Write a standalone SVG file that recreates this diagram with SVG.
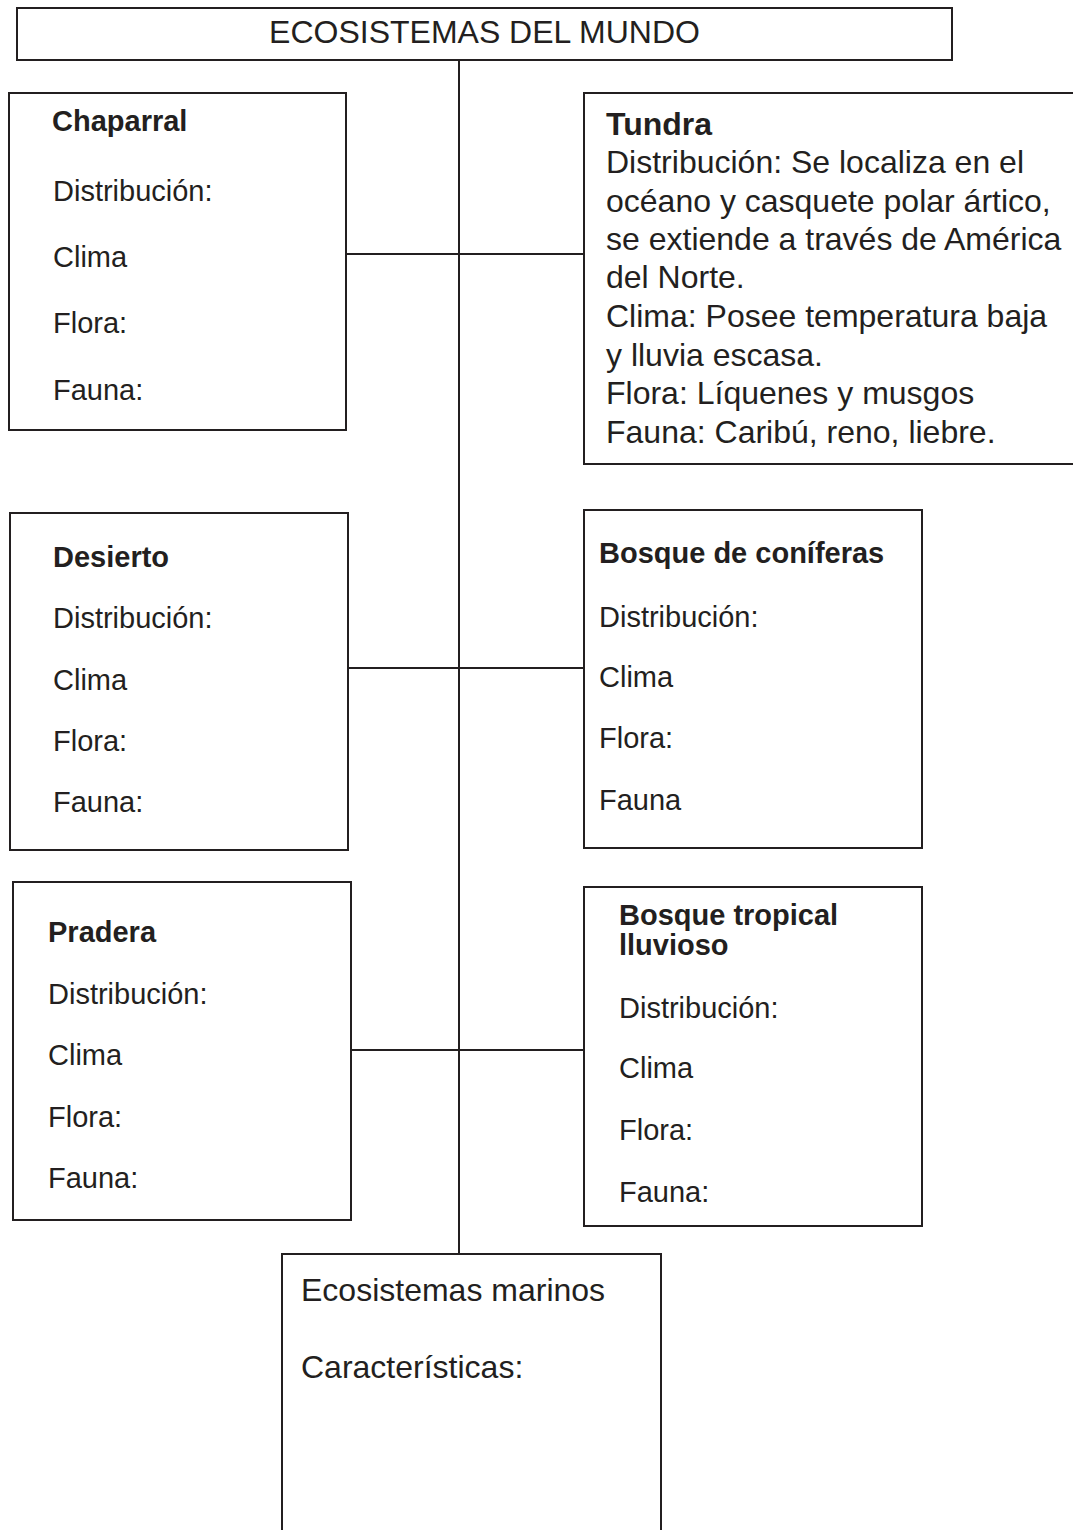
<svg xmlns="http://www.w3.org/2000/svg" width="1073" height="1530" viewBox="0 0 1073 1530">
  <style>
    .box { fill: #ffffff; stroke: #231f20; stroke-width: 2; }
    .link { fill: none; stroke: #231f20; stroke-width: 2; }
    text { font-family: "Liberation Sans", Arial, sans-serif; fill: #231f20; }
    .t { font-size: 29px; }
    .h { font-size: 29px; font-weight: bold; }
    .big { font-size: 32px; }
    .bigh { font-size: 32px; font-weight: bold; }
  </style>
  <rect width="1073" height="1530" fill="#ffffff"/>

  <!-- connectors: central trunk and branches -->
  <g id="connectors">
    <line class="link" x1="459" y1="60" x2="459" y2="1254"/>
    <line class="link" x1="346" y1="254" x2="584" y2="254"/>
    <line class="link" x1="344" y1="668" x2="584" y2="668"/>
    <line class="link" x1="344" y1="1050" x2="584" y2="1050"/>
  </g>

  <g id="title">
    <rect class="box" x="17" y="8" width="935" height="52"/>
    <text class="big" x="484.5" y="43" text-anchor="middle">ECOSISTEMAS DEL MUNDO</text>
  </g>

  <g id="chaparral">
    <rect class="box" x="9" y="93" width="337" height="337"/>
    <text class="h" x="52" y="131">Chaparral</text>
    <text class="t" x="53" y="201">Distribución:</text>
    <text class="t" x="53" y="267">Clima</text>
    <text class="t" x="53" y="333">Flora:</text>
    <text class="t" x="53" y="400">Fauna:</text>
  </g>

  <g id="tundra">
    <rect class="box" x="584" y="93" width="500" height="371"/>
    <text class="bigh" x="606" y="135">Tundra</text>
    <text class="big" x="606" y="173">Distribución: Se localiza en el</text>
    <text class="big" x="606" y="212">océano y casquete polar ártico,</text>
    <text class="big" x="606" y="250">se extiende a través de América</text>
    <text class="big" x="606" y="288">del Norte.</text>
    <text class="big" x="606" y="327">Clima: Posee temperatura baja</text>
    <text class="big" x="606" y="366">y lluvia escasa.</text>
    <text class="big" x="606" y="404">Flora: Líquenes y musgos</text>
    <text class="big" x="606" y="443">Fauna: Caribú, reno, liebre.</text>
  </g>

  <g id="desierto">
    <rect class="box" x="10" y="513" width="338" height="337"/>
    <text class="h" x="53" y="567">Desierto</text>
    <text class="t" x="53" y="628">Distribución:</text>
    <text class="t" x="53" y="690">Clima</text>
    <text class="t" x="53" y="751">Flora:</text>
    <text class="t" x="53" y="812">Fauna:</text>
  </g>

  <g id="coniferas">
    <rect class="box" x="584" y="510" width="338" height="338"/>
    <text class="h" x="599" y="563">Bosque de coníferas</text>
    <text class="t" x="599" y="627">Distribución:</text>
    <text class="t" x="599" y="687">Clima</text>
    <text class="t" x="599" y="748">Flora:</text>
    <text class="t" x="599" y="810">Fauna</text>
  </g>

  <g id="pradera">
    <rect class="box" x="13" y="882" width="338" height="338"/>
    <text class="h" x="48" y="942">Pradera</text>
    <text class="t" x="48" y="1004">Distribución:</text>
    <text class="t" x="48" y="1065">Clima</text>
    <text class="t" x="48" y="1127">Flora:</text>
    <text class="t" x="48" y="1188">Fauna:</text>
  </g>

  <g id="tropical">
    <rect class="box" x="584" y="887" width="338" height="339"/>
    <text class="h" x="619" y="925">Bosque tropical</text>
    <text class="h" x="619" y="955">lluvioso</text>
    <text class="t" x="619" y="1018">Distribución:</text>
    <text class="t" x="619" y="1078">Clima</text>
    <text class="t" x="619" y="1140">Flora:</text>
    <text class="t" x="619" y="1202">Fauna:</text>
  </g>

  <g id="marinos">
    <rect class="box" x="282" y="1254" width="379" height="300"/>
    <text class="big" x="301" y="1301">Ecosistemas marinos</text>
    <text class="big" x="301" y="1378">Características:</text>
  </g>
</svg>
